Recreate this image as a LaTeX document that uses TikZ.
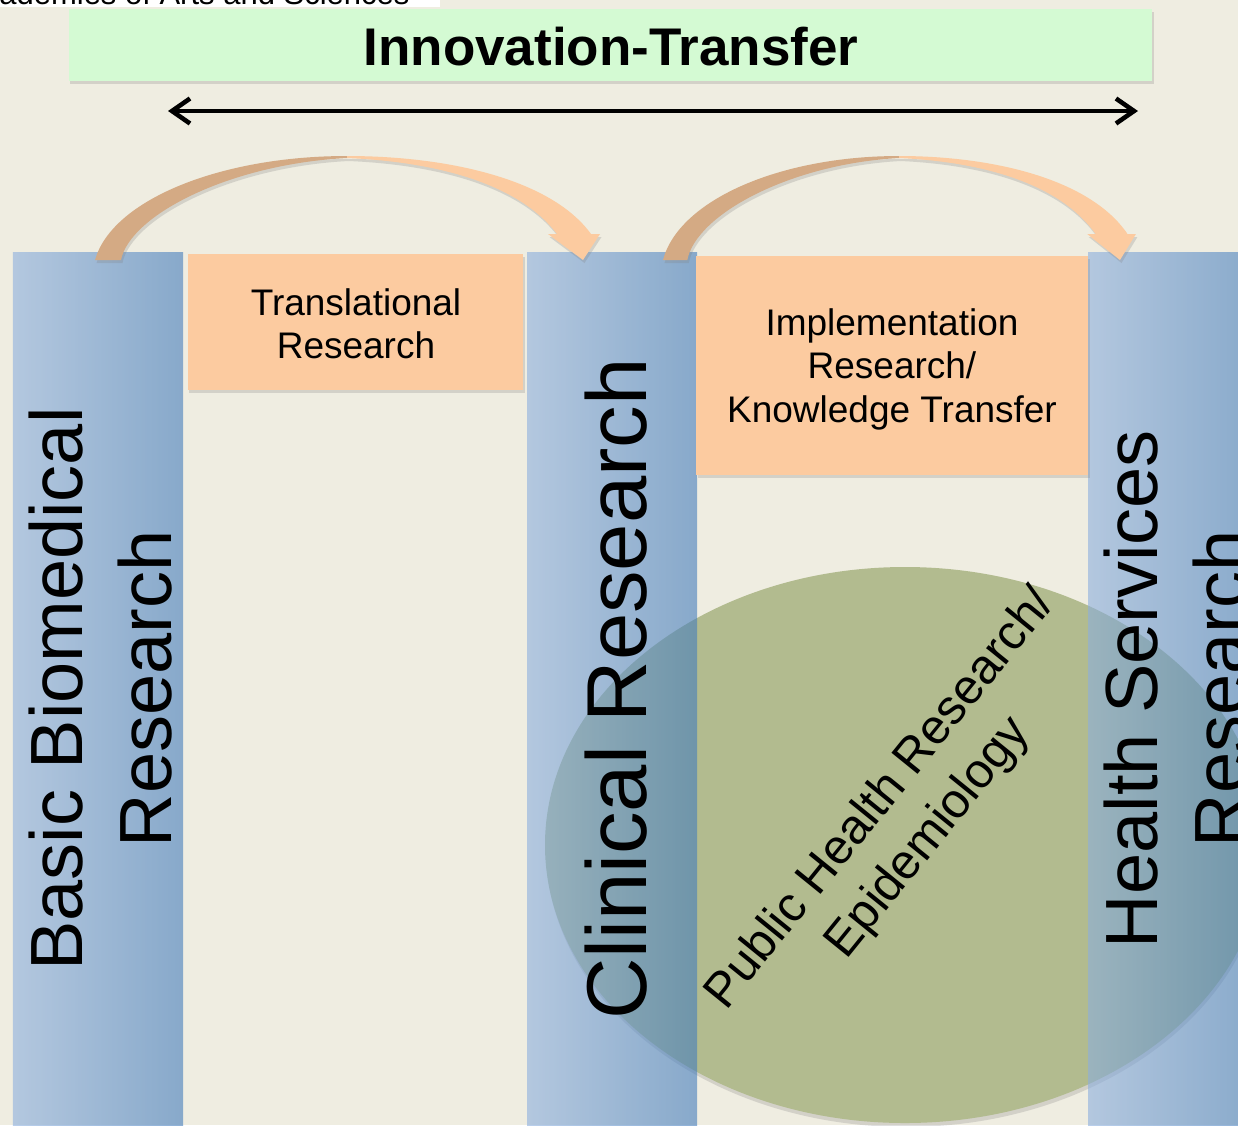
\documentclass[tikz,border=0pt]{standalone}
\usepackage{fontspec}
\setmainfont{Liberation Sans}
\usetikzlibrary{shapes.geometric,shadows,arrows.meta}
\definecolor{bgc}{RGB}{239,237,225}
\definecolor{greenc}{RGB}{212,250,211}
\definecolor{orc}{RGB}{252,203,160}
\definecolor{tanc}{RGB}{212,170,132}
\definecolor{colL}{RGB}{140,175,222}
\definecolor{colR}{RGB}{67,124,188}
\definecolor{olivec}{RGB}{178,187,143}
\newcommand\bendarrow{%
  \path[arrowdark] (95,260) .. controls (112,200) and (220,156) .. (347,156)
     -- (347,158) .. controls (230,164) and (130,215) .. (121,260) -- cycle;
  \path[arrowlight] (347,156) .. controls (450,156) and (552,180) .. (591,234)
     -- (600,234) -- (583,260) -- (548,234) -- (557,234)
     .. controls (520,185) and (440,162) .. (347,158) -- cycle;
}
\begin{document}
\begin{tikzpicture}[x=0.2mm,y=-0.2mm,
  softshadow/.style={drop shadow={shadow xshift=0.3mm,shadow yshift=-0.6mm,opacity=0.25}},
  greenbox/.style={rectangle,fill=greenc,minimum width=216.6mm,minimum height=14.4mm,inner sep=0,
     text depth=0pt,font=\fontsize{30.16}{36}\selectfont\bfseries,softshadow},
  orbox/.style={rectangle,fill=orc,inner sep=0,align=center,
     font=\fontsize{21.05}{24.75}\selectfont,softshadow},
  colbox/.style={rectangle,inner sep=0,minimum width=34mm,minimum height=177.4mm,
     left color=colL,right color=colR,opacity=0.6},
  coltext/.style={rotate=90,align=center,inner sep=0,font=\fontsize{42.1}{50.65}\selectfont},
  phell/.style={ellipse,fill=olivec,inner sep=0,minimum width=144mm,minimum height=111.2mm,
     drop shadow={shadow xshift=0.2mm,shadow yshift=-0.8mm,opacity=0.25}},
  arrowdark/.style={fill=tanc,softshadow},
  arrowlight/.style={fill=orc,softshadow},
  bar/.style={line width=2.6pt,{Straight Barb[length=3.6mm,width=5mm]}-{Straight Barb[length=3.6mm,width=5mm]}}
]
\fill[bgc] (0,0) rectangle (1238,1125);
\useasboundingbox (0,0) rectangle (1238,1125);
\clip (0,0) rectangle (1238,1125);

% header strip
\fill[white] (0,0) rectangle (440,7);
\node[anchor=base west,inner sep=0,font=\fontsize{17.64}{20}\selectfont] (hdr) at (-1,4.5) {ademies of Arts and Sciences};

% title
\node[greenbox] (innov) at (610.5,45) {};
\node[inner sep=0,font=\fontsize{30.16}{36}\selectfont\bfseries] (innovtext) at (611,47) {Innovation-Transfer};
\coordinate (al) at (168,111);
\coordinate (ar) at (1138,111);
\draw[bar] (al) -- (ar);

% ellipse
\node[phell] (ph) at (905,845) {};

% columns
\node[colbox] (c1) at (98,696) {};
\node[colbox] (c2) at (612,696) {};
\node[colbox] (c3) at (1173,696) {};

% orange boxes
\node[orbox,minimum width=67mm,minimum height=27.2mm] (trans) at (355.5,322) {};
\node[orbox,minimum width=78.4mm,minimum height=43.8mm] (impl) at (892,365.5) {};
\node[align=center,inner sep=0,font=\fontsize{21.05}{24.75}\selectfont] (transtext) at (356,324) {Translational\\Research};
\node[align=center,inner sep=0,font=\fontsize{21.05}{24.75}\selectfont] (impltext) at (892,369) {Implementation\\Research/\\Knowledge Transfer};

% column labels
\node[coltext] (t1) at (101,689) {Basic Biomedical\\Research};
\node[coltext,font=\fontsize{48.4}{56}\selectfont] (t2) at (616,689) {Clinical Research};
\node[coltext] (t3) at (1176,689) {Health Services\\Research};

% ellipse label
\node[rotate=51,align=center,inner sep=0,font=\fontsize{27.8}{35}\selectfont] (phtext) at (905,819) {Public Health Research/\\Epidemiology};

% curved arrows
\bendarrow
\begin{scope}[shift={(574.03,0)},xscale=0.9365]
\bendarrow
\end{scope}
\end{tikzpicture}
\end{document}
